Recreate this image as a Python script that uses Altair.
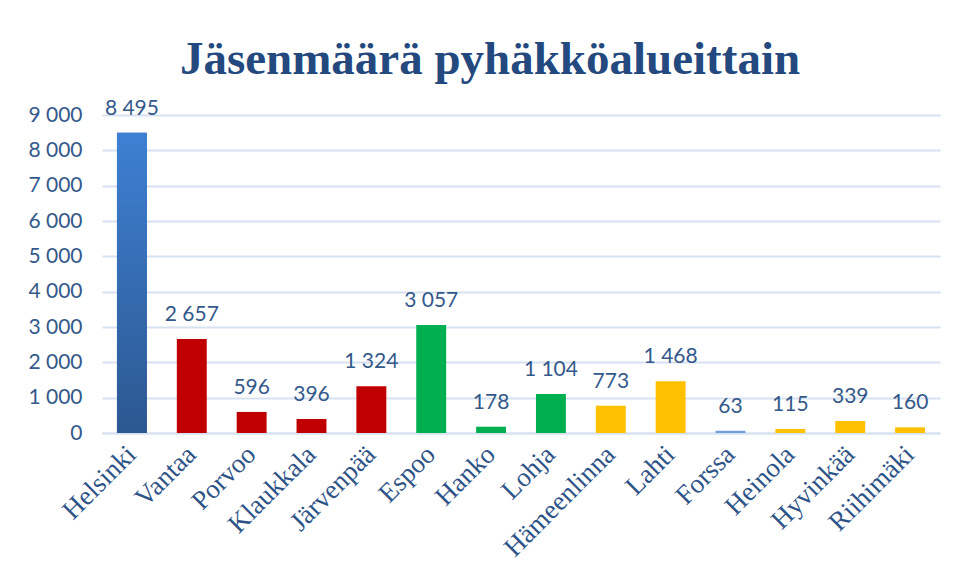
import altair as alt
import pandas as pd

cities = ["Helsinki", "Vantaa", "Porvoo", "Klaukkala", "Järvenpää", "Espoo", "Hanko",
          "Lohja", "Hämeenlinna", "Lahti", "Forssa", "Heinola", "Hyvinkää", "Riihimäki"]
members = [8495, 2657, 596, 396, 1324, 3057, 178, 1104, 773, 1468, 63, 115, 339, 160]
groups = ["Helsinki", "Itä", "Itä", "Itä", "Itä", "Länsi", "Länsi", "Länsi",
          "Häme", "Häme", "Forssa", "Häme", "Häme", "Häme"]

group_domain = ["Helsinki", "Itä", "Länsi", "Häme", "Forssa"]
group_colors = ["#3470BB", "#C00000", "#00B050", "#FFC000", "#6F9EDC"]
y_ticks = [0, 1000, 2000, 3000, 4000, 5000, 6000, 7000, 8000, 9000]

df = pd.DataFrame({"city": cities, "members": members, "group": groups})

TXT = "#34598A"
GRID = "#D7E2F1"
numfmt = "datum.members >= 1000 ? floor(datum.members/1000) + ' ' + format(datum.members % 1000, '03d') : '' + datum.members"

x = alt.X("city:N", sort=cities, title=None,
          scale=alt.Scale(paddingInner=0.5, paddingOuter=0.25),
          axis=alt.Axis(labelAngle=-45, labelAlign="right", labelBaseline="middle",
                        labelFont="Liberation Serif", labelFontSize=27, labelColor="#2E5487",
                        labelPadding=17, ticks=False, domain=True, domainColor=GRID,
                        domainWidth=2, grid=False, labelOverlap=False))
y = alt.Y("members:Q", title=None,
          scale=alt.Scale(domain=[0, 9000], nice=False),
          axis=alt.Axis(values=y_ticks, labelOverlap=False,
                        labelExpr="datum.value >= 1000 ? floor(datum.value/1000) + ' ' + format(datum.value % 1000, '03d') : '' + datum.value",
                        labelFont="Lato", labelFontSize=21, labelColor=TXT, labelPadding=20,
                        ticks=False, domain=False, grid=True, gridColor=GRID, gridWidth=2))

base = alt.Chart(df)

bars = base.mark_bar().encode(
    x=x, y=y,
    color=alt.Color("group:N", scale=alt.Scale(domain=group_domain, range=group_colors), legend=None),
)

helsinki = base.transform_filter(alt.datum.group == "Helsinki").mark_bar(
    color=alt.Gradient(gradient="linear",
                       stops=[alt.GradientStop(color="#2C5891", offset=0),
                              alt.GradientStop(color="#3E80D3", offset=1)],
                       x1=0, x2=0, y1=1, y2=0)
).encode(x=x, y=y)

labels = base.transform_calculate(lbl=numfmt).mark_text(
    baseline="bottom", dy=-14, font="Lato", fontSize=21, color=TXT
).encode(x=x, y=y, text="lbl:N")

chart = alt.layer(bars, helsinki, labels).properties(
    width=838, height=318,
    padding={"left": 94, "top": 107, "right": 7, "bottom": 140},
    autosize=alt.AutoSizeParams(type="none"),
    title=alt.TitleParams("Jäsenmäärä pyhäkköalueittain", font="Liberation Serif",
                          fontSize=47, fontWeight="bold", color="#23497E",
                          anchor="middle", offset=14, dx=-31),
).configure(background="white", view=alt.ViewConfig(stroke="transparent", strokeWidth=0))

chart.save("out.html", embed_options={"renderer": "svg", "actions": False})
